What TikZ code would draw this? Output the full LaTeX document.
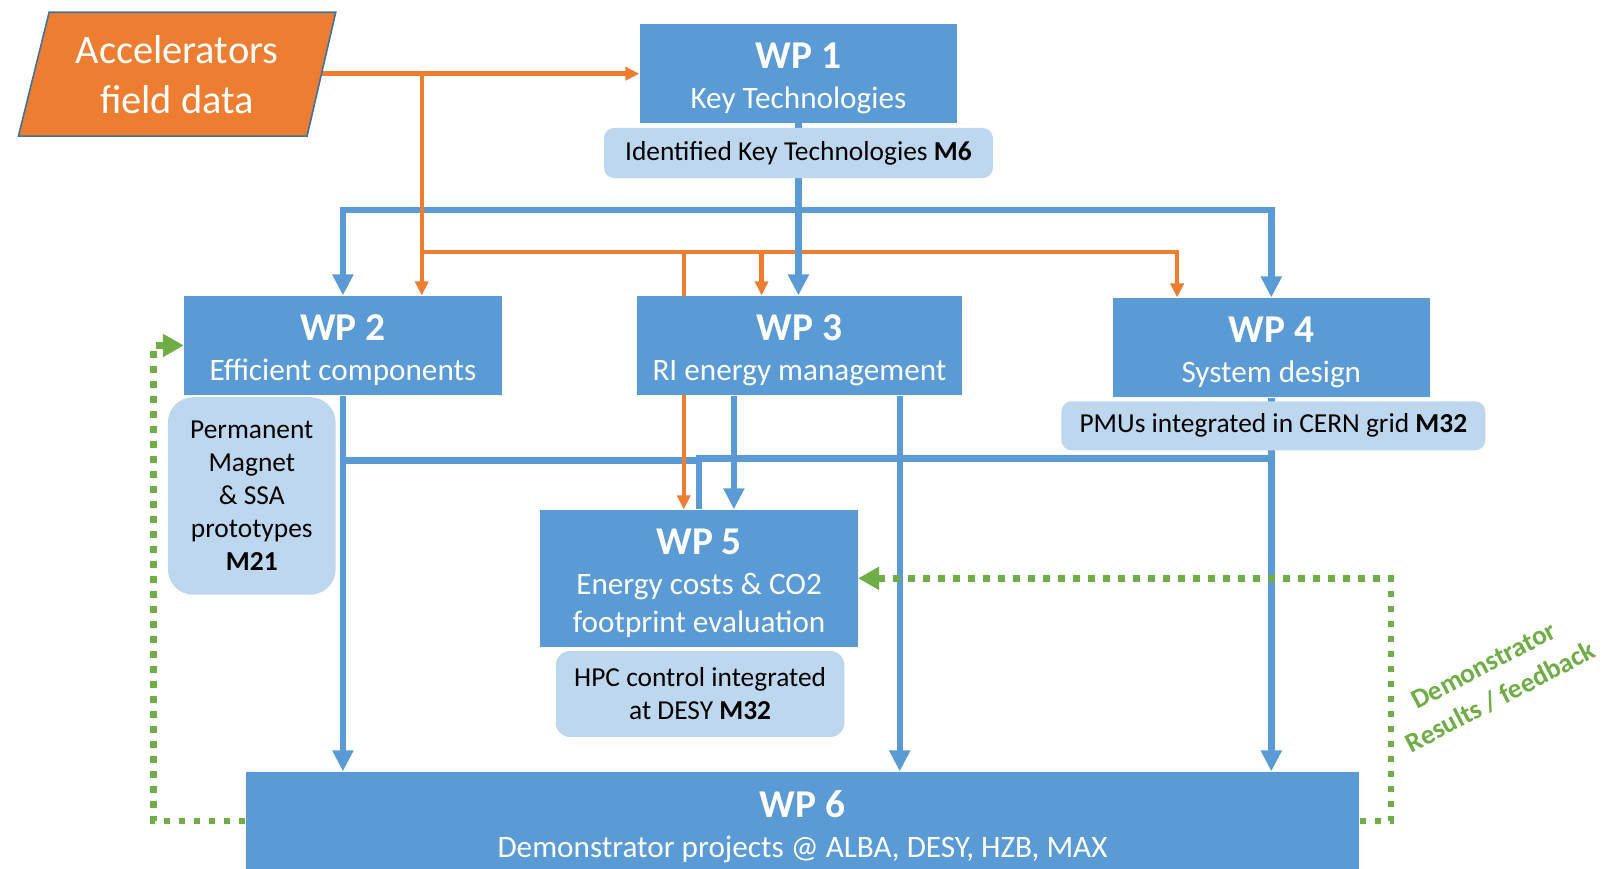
\documentclass[tikz,border=0pt]{standalone}
\usepackage{fontspec}
\setmainfont{Carlito}
\usetikzlibrary{arrows.meta}

\definecolor{wpblue}{HTML}{5B9BD5}
\definecolor{mslight}{HTML}{BDD7EE}
\definecolor{accorange}{HTML}{ED7D31}
\definecolor{fbgreen}{HTML}{70AD47}
\definecolor{accedge}{HTML}{41719C}

% one drawing unit
\newcommand{\upx}{0.5118pt}
% bold work-package title line
\newcommand{\wptitle}[1]{\rule{0pt}{18pt}{\fontsize{19.7}{20}\selectfont\bfseries #1}}

\pgfdeclarelayer{links}
\pgfsetlayers{links,main}

\tikzset{
  wpbox/.style 2 args={fill=wpblue, text=white, inner sep=0pt, align=center,
    minimum width=#1*\upx, minimum height=#2*\upx,
    font=\fontsize{15.6}{19}\selectfont},
  msbox/.style n args={3}{fill=mslight, text=black, inner sep=0pt, align=center,
    minimum width=#1*\upx, minimum height=#2*\upx, rounded corners=#3*\upx,
    font=\fontsize{13.7}{16.5}\selectfont},
  accshape/.style={fill=accorange, draw=accedge, line width=0.8pt},
  acctext/.style={text=white, align=center, inner sep=0pt,
    font=\fontsize{20.2}{24.7}\selectfont},
  blueflow/.style={draw=wpblue, line width=3.2pt},
  bluearrow/.style={blueflow, -{Triangle[width=10pt,length=10.5pt]}},
  orangeflow/.style={draw=accorange, line width=2.2pt},
  orangearrow/.style={orangeflow, -{Triangle[width=6.5pt,length=7pt]}},
  feedback/.style={draw=fbgreen, line width=3.3pt,
    dash pattern=on 3.3pt off 4.2pt,
    -{Triangle[width=11pt,length=10.5pt]}},
  fblabel/.style={text=fbgreen, align=center, inner sep=0pt, rotate=27.5,
    font=\fontsize{13.7}{17.8}\selectfont\bfseries},
}

\begin{document}
\begin{tikzpicture}[x=\upx, y=-\upx]
\useasboundingbox (0,0) rectangle (1568,848);

% input data parallelogram
\draw[accshape] (48,12) -- (328,12) -- (300,133) -- (18,133) -- cycle;
\node[acctext] (acc) at (173,73) {Accelerators\\field data};
\coordinate (accout) at (314,72);

% work packages
\node[wpbox={310}{97}] (wp1) at (780,71.5) {\wptitle{WP 1}\\[1pt]Key Technologies};
\node[wpbox={310}{97}] (wp2) at (335,337.5) {\wptitle{WP 2}\\[1pt]Efficient components};
\node[wpbox={318}{97}] (wp3) at (781,337.5) {\wptitle{WP 3}\\[1pt]RI energy management};
\node[wpbox={310}{97}] (wp4) at (1242,339.5) {\wptitle{WP 4}\\[1pt]System design};
\node[wpbox={310}{134}] (wp5) at (683,565) {\wptitle{WP 5}\\[1pt]Energy costs \& CO2\\footprint evaluation};
\node[wpbox={1088}{98}] (wp6) at (784,803) {\wptitle{WP 6}\\[1pt]Demonstrator projects @ ALBA, DESY, HZB, MAX};

% milestones
\node[msbox={380}{49}{10}] (ms1) at (780,149.5) {\rule[-1pt]{0pt}{1pt}Identified Key Technologies \textbf{M6}};
\node[msbox={414}{48}{10}] (ms4) at (1244,416) {\rule[-1pt]{0pt}{1pt}PMUs integrated in CERN grid \textbf{M32}};
\node[msbox={164}{193}{25}] (ms2) at (246,484.5) {Permanent\\Magnet\\\& SSA\\prototypes\\\textbf{M21}};
\node[msbox={282}{84}{14}] (ms5) at (684,678) {HPC control integrated\\at DESY \textbf{M32}};

% feedback label
\node[fblabel] (fbtext) at (1458,666) {Demonstrator\\Results / feedback};

% routing points
\coordinate (b1) at (780,205);
\coordinate (b2) at (335,450);
\coordinate (b4) at (1242,448);
\coordinate (c717) at (717,0);
\coordinate (c879) at (879,0);
\coordinate (o1) at (412,72);
\coordinate (o2) at (412,246);
\coordinate (c668) at (668,0);
\coordinate (c744) at (744,0);
\coordinate (c1150) at (1150,0);
\coordinate (fbL) at (150,802);
\coordinate (fbR) at (1359,802);

\begin{pgfonlayer}{links}
  % blue flows
  \draw[bluearrow] (b1) -| (wp2.north);
  \draw[bluearrow] (b1) -| (wp4.north);
  \draw[bluearrow] (wp2.south) -- (wp2.south |- wp6.north);
  \draw[blueflow] (b2) -| (wp5.north);
  \draw[bluearrow] (wp4.south) -- (wp4.south |- wp6.north);
  \draw[blueflow] (b4) -| (wp5.north);
  \draw[bluearrow] (wp3.south -| c717) -- (wp5.north -| c717);
  \draw[bluearrow] (wp3.south -| c879) -- (wp6.north -| c879);
  % orange flows
  \draw[orangearrow] (accout) -- (accout -| wp1.west);
  \draw[orangearrow] (o1) -- (o1 |- wp2.north);
  \draw[orangearrow] (o2) -| (c1150 |- wp4.north);
  \draw[orangearrow] (o2 -| c744) -- (c744 |- wp3.north);
  \draw[orangearrow] (o2 -| c668) -- (c668 |- wp5.north);
  % key technologies feed
  \draw[bluearrow] (wp1.south) -- (wp1.south |- wp3.north);
  % demonstrator feedback
  \draw[feedback] (wp6.west |- fbL) -- (fbL) |- (wp2.west);
  \draw[feedback] (wp6.east |- fbR) -- (fbR) |- (wp5.east);
\end{pgfonlayer}
\end{tikzpicture}
\end{document}
